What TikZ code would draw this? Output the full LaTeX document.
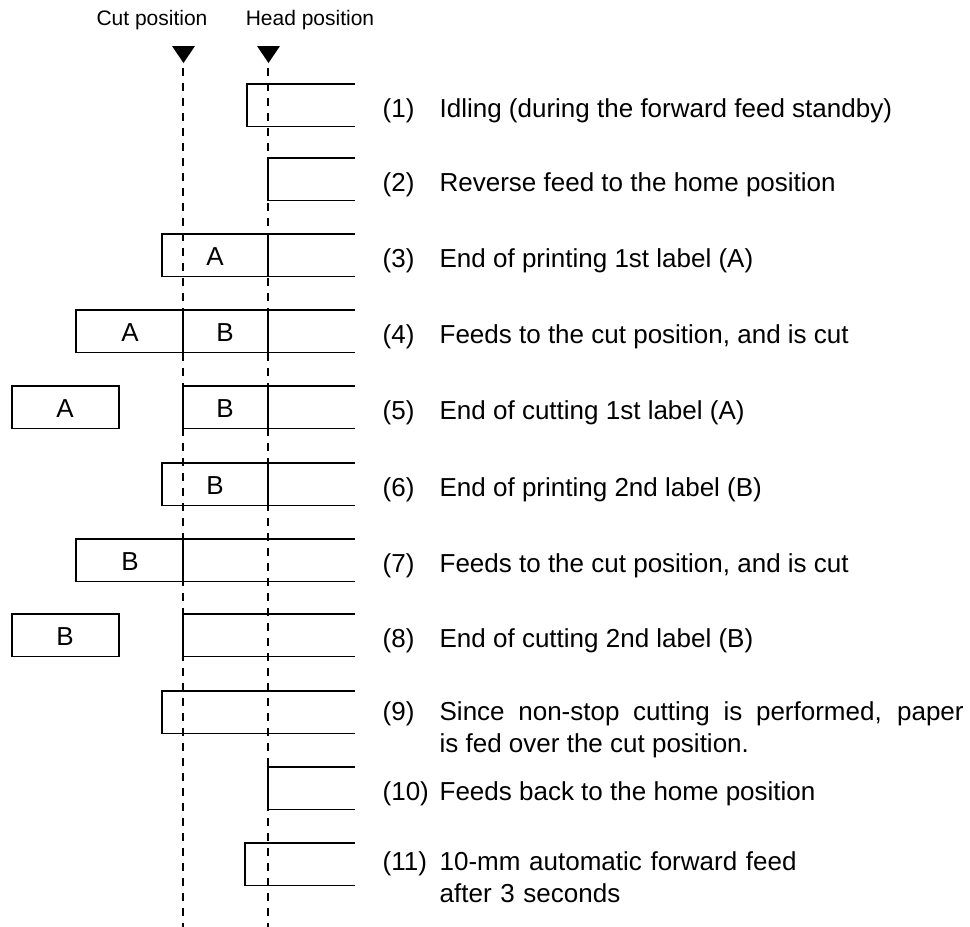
\documentclass[tikz,border=0pt]{standalone}
\usepackage{fontspec}
\setmainfont{Liberation Sans}
\begin{document}
\begin{tikzpicture}[x=1pt, y=-1pt, line width=1.3pt,
    guide/.style={line width=2.4pt, dash pattern=on 8pt off 7pt},
    hdr/.style={font=\fontsize{21}{25}\selectfont},
    lbl/.style={font=\fontsize{26}{30}\selectfont},
    stepno/.style={anchor=base west, inner sep=0pt, font=\fontsize{26}{32}\selectfont},
    steptxt/.style={anchor=base west, inner sep=0pt, font=\fontsize{26}{32}\selectfont, align=left}]
  \useasboundingbox (0,0) rectangle (970,927);

  % 見出しと位置マーク
  \node[hdr] (cutlbl) at (152,20) {Cut position};
  \node[hdr] (headlbl) at (310,20) {Head position};
  \fill (172,46) -- (195,46) -- (183.5,63) -- cycle;
  \fill (257,46) -- (280,46) -- (268.5,63) -- cycle;

  % カット位置とヘッド位置の破線
  \draw[guide] (183,68) -- (183,927);
  \draw[guide] (268,68) -- (268,927);

  % 用紙 (右端は開いたまま)
  \draw (355,84) -- (247,84) -- (247,126.5) -- (355,126.5);
  \draw (355,158) -- (268,158) -- (268,200.5) -- (355,200.5);
  \draw (355,234) -- (162,234) -- (162,276.5) -- (355,276.5);
  \draw (268,234) -- (268,276.5);
  \draw (355,310) -- (76,310) -- (76,352.5) -- (355,352.5);
  \draw (183,310) -- (183,352.5);
  \draw (268,310) -- (268,352.5);
  \draw (12,386) rectangle (119,428.5);
  \draw (355,386) -- (183,386) -- (183,428.5) -- (355,428.5);
  \draw (268,386) -- (268,428.5);
  \draw (355,463) -- (162,463) -- (162,505.5) -- (355,505.5);
  \draw (268,463) -- (268,505.5);
  \draw (355,539) -- (76,539) -- (76,581.5) -- (355,581.5);
  \draw (183,539) -- (183,581.5);
  \draw (12,614) rectangle (119,656.5);
  \draw (355,614) -- (183,614) -- (183,656.5) -- (355,656.5);
  \draw (355,691) -- (162,691) -- (162,733.5) -- (355,733.5);
  \draw (355,767) -- (268,767) -- (268,809.5) -- (355,809.5);
  \draw (355,843) -- (245,843) -- (245,885.5) -- (355,885.5);

  % ラベル A, B
  \node[lbl] (a3) at (215,257) {A};
  \node[lbl] (a4) at (130,333) {A};
  \node[lbl] (b4) at (225,333) {B};
  \node[lbl] (a5) at (65,409) {A};
  \node[lbl] (b5) at (225,409) {B};
  \node[lbl] (b6) at (215,486) {B};
  \node[lbl] (b7) at (130,562) {B};
  \node[lbl] (b8) at (65,637) {B};

  % 手順の説明
  \node[stepno] (n1) at (382,117.5) {(1)};
  \node[steptxt] (t1) at (439,117.5) {Idling (during the forward feed standby)};
  \node[stepno] (n2) at (382,191.5) {(2)};
  \node[steptxt] (t2) at (439,191.5) {Reverse feed to the home position};
  \node[stepno] (n3) at (382,267.5) {(3)};
  \node[steptxt] (t3) at (439,267.5) {End of printing 1st label (A)};
  \node[stepno] (n4) at (382,343.5) {(4)};
  \node[steptxt] (t4) at (439,343.5) {Feeds to the cut position, and is cut};
  \node[stepno] (n5) at (382,419.5) {(5)};
  \node[steptxt] (t5) at (439,419.5) {End of cutting 1st label (A)};
  \node[stepno] (n6) at (382,496.5) {(6)};
  \node[steptxt] (t6) at (439,496.5) {End of printing 2nd label (B)};
  \node[stepno] (n7) at (382,572.5) {(7)};
  \node[steptxt] (t7) at (439,572.5) {Feeds to the cut position, and is cut};
  \node[stepno] (n8) at (382,647.5) {(8)};
  \node[steptxt] (t8) at (439,647.5) {End of cutting 2nd label (B)};
  \node[stepno] (n9) at (382,720) {(9)};
  \node[steptxt, text width=524pt, align=justify] (t9) at (439,720)
    {Since non-stop cutting is performed, paper\linebreak is fed over the cut position.};
  \node[stepno] (n10) at (382,800.5) {(10)};
  \node[steptxt] (t10) at (439,800.5) {Feeds back to the home position};
  \node[stepno] (n11) at (382,870) {(11)};
  \node[steptxt, text width=450pt, align=left] (t11) at (439,870) {10-mm automatic forward feed\\after 3 seconds};
\end{tikzpicture}
\end{document}
